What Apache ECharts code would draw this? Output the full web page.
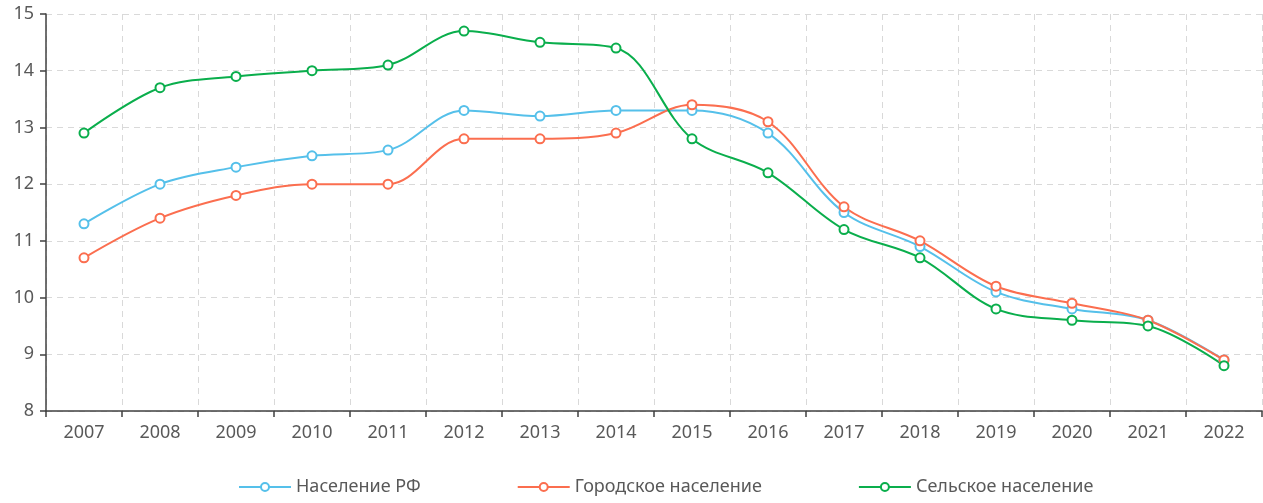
<!DOCTYPE html>
<html>
<head>
<meta charset="utf-8">
<script src="https://cdn.jsdelivr.net/npm/echarts@6/dist/echarts.min.js"></script>
<style>
html, body { margin: 0; padding: 0; background: #fff; }
#chart { width: 1263px; height: 503px; }
</style>
</head>
<body>
<div id="chart"></div>
<script>
var years = ['2007','2008','2009','2010','2011','2012','2013','2014','2015','2016','2017','2018','2019','2020','2021','2022'];
var rfData = [11.3, 12.0, 12.3, 12.5, 12.6, 13.3, 13.2, 13.3, 13.3, 12.9, 11.5, 10.9, 10.1, 9.8, 9.6, 8.9];
var urbanData = [10.7, 11.4, 11.8, 12.0, 12.0, 12.8, 12.8, 12.9, 13.4, 13.1, 11.6, 11.0, 10.2, 9.9, 9.6, 8.9];
var ruralData = [12.9, 13.7, 13.9, 14.0, 14.1, 14.7, 14.5, 14.4, 12.8, 12.2, 11.2, 10.7, 9.8, 9.6, 9.5, 8.8];
var names = ['Население РФ', 'Городское население', 'Сельское население'];
var colors = ['#55c0ea', '#fb6e4f', '#0aae4c'];

var myChart = echarts.init(document.getElementById('chart'));

function line(name, data, color) {
    return {
        name: name,
        type: 'line',
        data: data,
        smooth: 0.35,
        symbol: 'emptyCircle',
        symbolSize: 9,
        color: color,
        lineStyle: { width: 2, color: color },
        itemStyle: { color: color, borderWidth: 2 }
    };
}

myChart.setOption({
    backgroundColor: '#fff',
    animation: false,
    textStyle: { fontFamily: 'Noto Sans' },
    grid: { left: 46, right: 1, top: 14, bottom: 92 },
    legend: {
        bottom: 2,
        left: 233,
        itemWidth: 52,
        itemHeight: 10,
        itemGap: 96,
        textStyle: { fontSize: 18, color: '#595959', fontFamily: 'Noto Sans' },
        data: names
    },
    xAxis: {
        type: 'category',
        data: years,
        boundaryGap: true,
        axisLine: { lineStyle: { color: '#404040', width: 1.5 } },
        axisTick: { show: true, length: 6, lineStyle: { color: '#404040', width: 1.5 } },
        axisLabel: { fontSize: 18, color: '#595959', margin: 13 },
        splitLine: { show: true, lineStyle: { type: [6, 5], color: '#d9d9d9' } }
    },
    yAxis: {
        type: 'value',
        min: 8,
        max: 15,
        interval: 1,
        axisLine: { show: true, lineStyle: { color: '#404040', width: 1.5 } },
        axisTick: { show: true, length: 6, lineStyle: { color: '#404040', width: 1.5 } },
        axisLabel: { fontSize: 18, color: '#595959', margin: 12 },
        splitLine: { show: true, lineStyle: { type: [6, 5], color: '#d9d9d9' } }
    },
    series: [
        line(names[0], rfData, colors[0]),
        line(names[1], urbanData, colors[1]),
        line(names[2], ruralData, colors[2])
    ]
});
</script>
</body>
</html>
